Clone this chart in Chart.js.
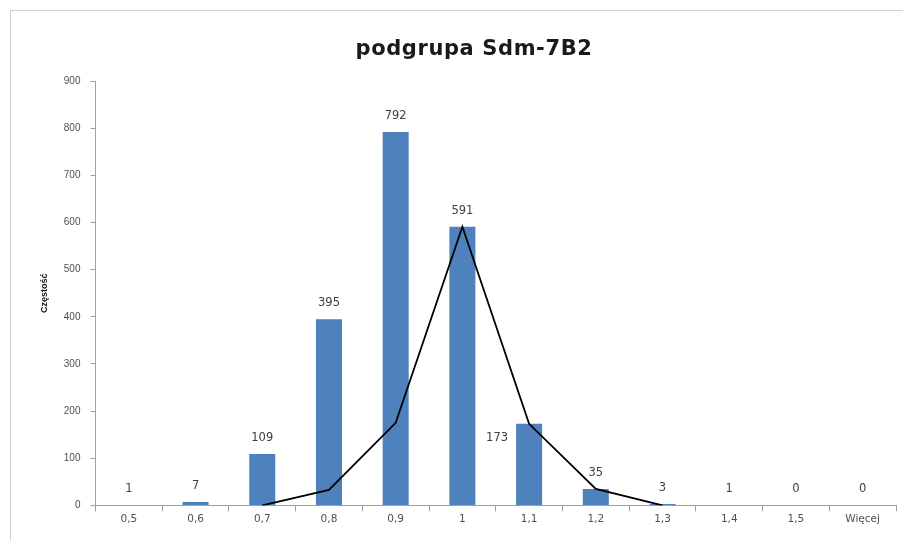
<!DOCTYPE html>
<html><head><meta charset="utf-8">
<script src="https://cdn.jsdelivr.net/npm/chart.js@4/dist/chart.umd.min.js"></script>
<style>
html,body{margin:0;padding:0;background:#fff;}
#wrap{position:absolute;left:10px;top:10px;width:893px;height:531px;border:1px solid #d0d0d0;border-right:none;border-bottom:none;box-sizing:border-box;}
canvas{position:absolute;left:0;top:0;}
</style></head>
<body>
<div id="wrap"></div>
<canvas id="c" width="904" height="542"></canvas>
<script>
const chartTitle = 'podgrupa Sdm-7B2';
const categories = ['0,5','0,6','0,7','0,8','0,9','1','1,1','1,2','1,3','1,4','1,5','Więcej'];
const frequency = [1,7,109,395,792,591,173,35,3,1,0,0];
const curve = [null,null,0,33,175,591,173,35,0,null,null,null];
const yTicks = [0,100,200,300,400,500,600,700,800,900];

const labelPlugin = {
  id:'barLabels',
  afterDatasetsDraw(chart){
    const ctx = chart.ctx;
    const meta = chart.getDatasetMeta(1);
    ctx.save();
    ctx.font = '11.5px "DejaVu Sans", sans-serif';
    ctx.fillStyle = '#404040';
    ctx.textAlign = 'center';
    ctx.textBaseline = 'middle';
    meta.data.forEach((bar,i)=>{
      let x = bar.x, y = bar.y - 16;
      if (i === 6) { x = bar.x - 32; y = bar.y + 14; }
      ctx.fillText(String(frequency[i]), x, y);
    });
    ctx.restore();
  },
  afterDraw(chart){
    const ctx = chart.ctx;
    ctx.save();
    ctx.font = 'bold 21px "DejaVu Sans", sans-serif';
    try { ctx.letterSpacing = '0.6px'; } catch(e) {}
    ctx.fillStyle = '#1a1a1a';
    ctx.textAlign = 'center';
    ctx.textBaseline = 'middle';
    ctx.fillText(chartTitle, 474, 50);
    ctx.restore();
  }
};

new Chart(document.getElementById('c'), {
  data: {
    labels: categories,
    datasets: [
      { type:'line', data: curve, borderColor:'#000', borderWidth:1.8, pointRadius:0, tension:0, order:0, spanGaps:false },
      { type:'bar', data: frequency, backgroundColor:'#4f81bd', categoryPercentage:1, barPercentage:0.39, order:1 }
    ]
  },
  options: {
    responsive:false, animation:false,
    layout:{ padding:{ left:35, right:8, top:81, bottom:14 } },
    plugins:{ legend:{display:false}, tooltip:{enabled:false}, title:{display:false} },
    scales:{
      x:{ offset:true,
        grid:{ display:true, drawOnChartArea:false, offset:true, tickLength:6, color:'#a0a0a0' },
        border:{ color:'#a0a0a0' },
        ticks:{ color:'#505050', font:{ family:'"DejaVu Sans", sans-serif', size:10.5 }, padding:2 } },
      y:{ min:0, max:900,
        afterBuildTicks(axis){ axis.ticks = yTicks.map(v=>({value:v})); },
        grid:{ display:true, drawOnChartArea:false, tickLength:5, color:'#a0a0a0' },
        border:{ color:'#a0a0a0' },
        title:{ display:true, text:'Częstość', color:'#202020', font:{ family:'"Liberation Sans", Arial, sans-serif', size:9, weight:'bold' }, padding:{bottom:4} },
        ticks:{ color:'#505050', font:{ family:'"Liberation Sans", Arial, sans-serif', size:10 }, padding:10 } }
    }
  },
  plugins:[labelPlugin]
});
</script>
</body></html>
